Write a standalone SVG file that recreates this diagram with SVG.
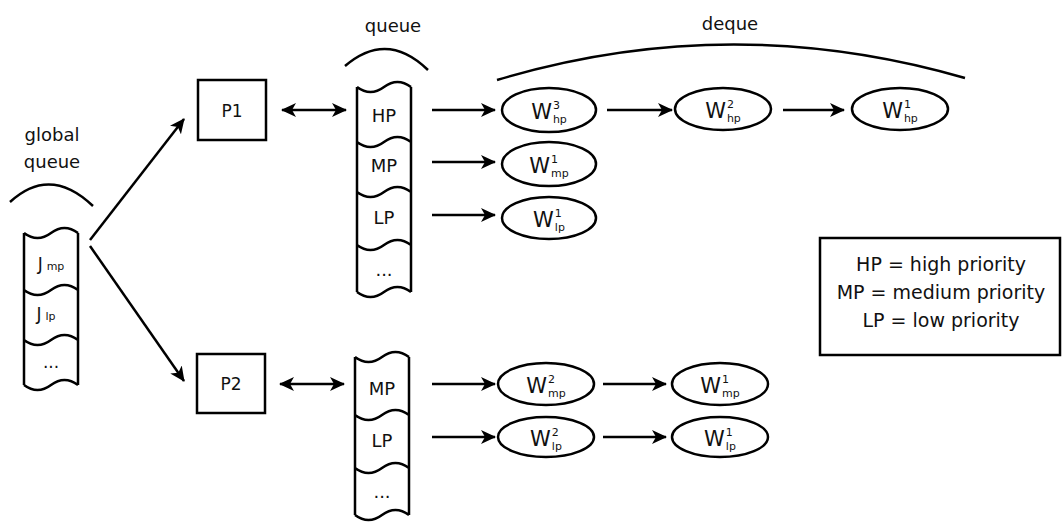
<svg xmlns="http://www.w3.org/2000/svg" width="1062" height="522" viewBox="0 0 1062 522">
<defs>
<marker id="ah" markerUnits="userSpaceOnUse" markerWidth="16" markerHeight="14" refX="14" refY="7" orient="auto-start-reverse">
<path d="M0,0 L15,7 L0,14 L4,7 Z" fill="#000"/>
</marker>
</defs>
<style>
text{font-family:"DejaVu Sans","Liberation Sans",sans-serif;fill:#111;}
.lbl{font-size:18px;text-anchor:middle;}
.box{fill:#fff;stroke:#000;stroke-width:2.5;}
.col{fill:none;stroke:#000;stroke-width:2.5;}
.ell{fill:#fff;stroke:#000;stroke-width:2.5;}
.con{fill:none;stroke:#000;stroke-width:2.5;marker-end:url(#ah);}
.dbl{fill:none;stroke:#000;stroke-width:2.5;marker-end:url(#ah);marker-start:url(#ah);}
.w{font-size:21px;text-anchor:middle;}
.s{font-size:11px;}
.leg{font-size:19px;text-anchor:middle;}
</style>

<!-- arcs and labels -->
<g id="labels">
<path class="col" d="M10,202 Q50,165 93,206"/>
<text class="lbl" x="52" y="141">global</text>
<text class="lbl" x="52" y="168">queue</text>
<path class="col" d="M345,66 Q387,30 428,70"/>
<text class="lbl" x="393" y="32">queue</text>
<path class="col" d="M497,80 Q730,10 965,78"/>
<text class="lbl" x="730" y="30">deque</text>
</g>

<!-- global queue -->
<g id="global-queue">
<path class="col" d="M24,233 q13.5,10 27,0 t27,0 M24,290 q13.5,10 27,0 t27,0 M24,340 q13.5,10 27,0 t27,0 M24,385 q13.5,10 27,0 t27,0 M24,233 V385 M78,233 V385"/>
<text x="51" y="270" style="font-size:17px;text-anchor:middle">J<tspan class="s" dx="4">mp</tspan></text>
<text x="46" y="320" style="font-size:17px;text-anchor:middle">J<tspan class="s" dx="4">lp</tspan></text>
<text x="51" y="368" style="font-size:17px;text-anchor:middle">...</text>
</g>

<g id="P1">
<rect class="box" x="198" y="80" width="68" height="60"/>
<text class="lbl" x="232" y="117" style="font-size:17px">P1</text>
</g>
<g id="P2">
<rect class="box" x="197" y="354" width="68" height="59"/>
<text class="lbl" x="231" y="390" style="font-size:17px">P2</text>
</g>

<g id="queue1">
<path class="col" d="M357,87 q13.5,10 27,0 t27,0 M357,142 q13.5,10 27,0 t27,0 M357,192 q13.5,10 27,0 t27,0 M357,245 q13.5,10 27,0 t27,0 M357,292 q13.5,10 27,0 t27,0 M357,87 V292 M411,87 V292"/>
<text class="lbl" x="384" y="122">HP</text>
<text class="lbl" x="384" y="172">MP</text>
<text class="lbl" x="384" y="224">LP</text>
<text class="lbl" x="384" y="276">...</text>
</g>

<g id="queue2">
<path class="col" d="M355,357 q13.5,10 27,0 t27,0 M355,415 q13.5,10 27,0 t27,0 M355,468 q13.5,10 27,0 t27,0 M355,515 q13.5,10 27,0 t27,0 M355,357 V515 M409,357 V515"/>
<text class="lbl" x="382" y="395">MP</text>
<text class="lbl" x="382" y="447">LP</text>
<text class="lbl" x="382" y="498">...</text>
</g>

<g id="W3hp"><ellipse class="ell" cx="549" cy="110" rx="47" ry="22"/>
<text class="w" x="549" y="119">W<tspan class="s" dx="1" dy="-10">3</tspan><tspan class="s" dx="-7" dy="14">hp</tspan></text></g>
<g id="W2hp"><ellipse class="ell" cx="723" cy="109" rx="48" ry="21"/>
<text class="w" x="723" y="118">W<tspan class="s" dx="1" dy="-10">2</tspan><tspan class="s" dx="-7" dy="14">hp</tspan></text></g>
<g id="W1hp"><ellipse class="ell" cx="900" cy="109" rx="48" ry="21"/>
<text class="w" x="900" y="118">W<tspan class="s" dx="1" dy="-10">1</tspan><tspan class="s" dx="-7" dy="14">hp</tspan></text></g>
<g id="W1mp"><ellipse class="ell" cx="549" cy="164" rx="47" ry="22"/>
<text class="w" x="549" y="173">W<tspan class="s" dx="1" dy="-10">1</tspan><tspan class="s" dx="-7" dy="14">mp</tspan></text></g>
<g id="W1lp"><ellipse class="ell" cx="549" cy="218" rx="47" ry="21"/>
<text class="w" x="549" y="227">W<tspan class="s" dx="1" dy="-10">1</tspan><tspan class="s" dx="-7" dy="14">lp</tspan></text></g>
<g id="W2mp"><ellipse class="ell" cx="546" cy="384" rx="48" ry="21"/>
<text class="w" x="546" y="393">W<tspan class="s" dx="1" dy="-10">2</tspan><tspan class="s" dx="-7" dy="14">mp</tspan></text></g>
<g id="W1mp2"><ellipse class="ell" cx="720" cy="384" rx="48" ry="21"/>
<text class="w" x="720" y="393">W<tspan class="s" dx="1" dy="-10">1</tspan><tspan class="s" dx="-7" dy="14">mp</tspan></text></g>
<g id="W2lp"><ellipse class="ell" cx="546" cy="437" rx="48" ry="20"/>
<text class="w" x="546" y="446">W<tspan class="s" dx="1" dy="-10">2</tspan><tspan class="s" dx="-7" dy="14">lp</tspan></text></g>
<g id="W1lp2"><ellipse class="ell" cx="720" cy="437" rx="48" ry="20"/>
<text class="w" x="720" y="446">W<tspan class="s" dx="1" dy="-10">1</tspan><tspan class="s" dx="-7" dy="14">lp</tspan></text></g>

<g id="legend">
<rect class="box" x="820" y="238" width="240" height="117"/>
<text class="leg" x="941" y="271">HP = high priority</text>
<text class="leg" x="941" y="299">MP = medium priority</text>
<text class="leg" x="941" y="327">LP = low priority</text>
</g>

<g id="connectors">
<path class="con" d="M90,240 L184,119"/>
<path class="con" d="M90,246 L184,381"/>
<path class="dbl" d="M282,110 H346"/>
<path class="dbl" d="M280,384 H344"/>
<path class="con" d="M432,110 H495"/>
<path class="con" d="M432,162 H495"/>
<path class="con" d="M432,215 H495"/>
<path class="con" d="M432,384 H495"/>
<path class="con" d="M432,437 H495"/>
<path class="con" d="M607,110 H672"/>
<path class="con" d="M783,110 H844"/>
<path class="con" d="M603,384 H666"/>
<path class="con" d="M603,437 H666"/>
</g>
</svg>
